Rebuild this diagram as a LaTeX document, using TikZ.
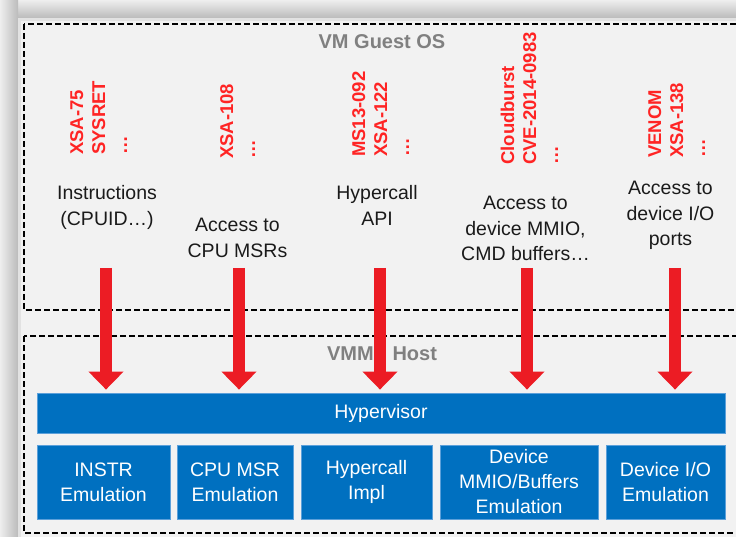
\documentclass[tikz,border=0pt]{standalone}
\usepackage{fontspec}
\setmainfont{Liberation Sans}
\usetikzlibrary{arrows.meta}

\definecolor{pagebg}{HTML}{F2F2F2}
\definecolor{edgelight}{HTML}{EEEEEE}
\definecolor{edgedark}{HTML}{BBBBBB}
\definecolor{edgerim}{HTML}{E2E2E2}
\definecolor{layergray}{HTML}{808080}
\definecolor{cvered}{HTML}{FF2424}
\definecolor{arrowred}{HTML}{EC1C24}
\definecolor{hvblue}{HTML}{0070C0}
\definecolor{hvrim}{HTML}{5CA0DA}
\definecolor{inktext}{HTML}{1A1A1A}

% multi-line nodes: the base anchor sits on the baseline of the last line
\tikzset{
  layerbox/.style={draw=black, line width=2.6pt, dash pattern=on 6pt off 3pt},
  layerlabel/.style={text=layergray, font=\bfseries\fontsize{20}{23}\selectfont, inner sep=0pt},
  cvelist/.style={text=cvered, font=\bfseries\fontsize{18.5}{22}\selectfont,
    rotate=90, align=left, anchor=base west, inner sep=0pt},
  guestop/.style={text=inktext, font=\fontsize{19.5}{25.5}\selectfont,
    align=center, anchor=base, inner sep=0pt},
  bluebox/.style={fill=hvblue, draw=hvrim, line width=0.8pt, text=white,
    font=\fontsize{19.5}{25}\selectfont, align=center, inner sep=0pt},
  trap/.style={draw=arrowred, line width=12pt,
    -{Triangle[width=34pt,length=18pt]}, shorten >=3pt},
}

\begin{document}
\begin{tikzpicture}[x=1pt,y=-1pt]
  \useasboundingbox (0,0) rectangle (736,537);
  \fill[pagebg] (0,0) rectangle (736,537);

  % window edge along top and left
  \shade[top color=edgelight, bottom color=edgedark] (0,0) rectangle (736,18);
  \fill[edgerim] (0,18) rectangle (736,21);
  \shade[left color=edgelight, right color=edgedark] (0,0) rectangle (18,537);
  \fill[edgerim] (18,18) rectangle (21,537);
  \fill[pagebg] (21,21) rectangle (736,537);

  % the two layers
  \draw[layerbox] (24,24) rectangle (760,310);
  \draw[layerbox] (24,336) rectangle (760,533);
  \node[layerlabel] (guestlbl) at (382,42) {VM Guest OS};
  \node[layerlabel] (hostlbl) at (382,353) {VMM\,\,/\,\,Host};

  % known vulnerabilities per interface
  \node[cvelist] (cve1) at (127,155) {XSA-75\\SYSRET\\…};
  \node[cvelist] (cve2) at (255,159) {XSA-108\\…};
  \node[cvelist] (cve3) at (409,157) {MS13-092\\XSA-122\\…};
  \node[cvelist] (cve4) at (558,165) {Cloudburst\\CVE-2014-0983\\…};
  \node[cvelist] (cve5) at (705,158) {VENOM\\XSA-138\\…};

  % guest-facing interfaces
  \node[guestop] (op1) at (107,225.5)   {Instructions\\(CPUID…)};
  \node[guestop] (op2) at (237.5,257.5) {Access to\\CPU MSRs};
  \node[guestop] (op3) at (377,225.5)   {Hypercall\\API};
  \node[guestop] (op4) at (525.5,261)   {Access to\\device MMIO,\\CMD buffers…};
  \node[guestop] (op5) at (670.5,246)   {Access to\\device I/O\\ports};

  % hypervisor and its emulation components
  \node[bluebox, minimum width=688pt, minimum height=40pt] (hyp) at (381,413) {Hypervisor};
  \node[bluebox, minimum width=133pt, minimum height=74pt] (emu1) at (103.5,482) {INSTR\\Emulation};
  \node[bluebox, minimum width=116pt, minimum height=74pt] (emu2) at (235,482)   {CPU MSR\\Emulation};
  \node[bluebox, minimum width=131pt, minimum height=74pt] (emu3) at (366.5,482) {Hypercall\\Impl};
  \node[bluebox, minimum width=158pt, minimum height=74pt] (emu4) at (519,482)   {Device\\MMIO/Buffers\\Emulation};
  \node[bluebox, minimum width=119pt, minimum height=74pt] (emu5) at (665.5,482) {Device I/O\\Emulation};

  % traps from the guest into the hypervisor
  \coordinate (t1) at (106,268);
  \coordinate (t2) at (239,268);
  \coordinate (t3) at (380,268);
  \coordinate (t4) at (527,268);
  \coordinate (t5) at (675,268);
  \foreach \i in {1,...,5}
    \draw[trap] (t\i) -- (t\i |- hyp.north);
\end{tikzpicture}
\end{document}
